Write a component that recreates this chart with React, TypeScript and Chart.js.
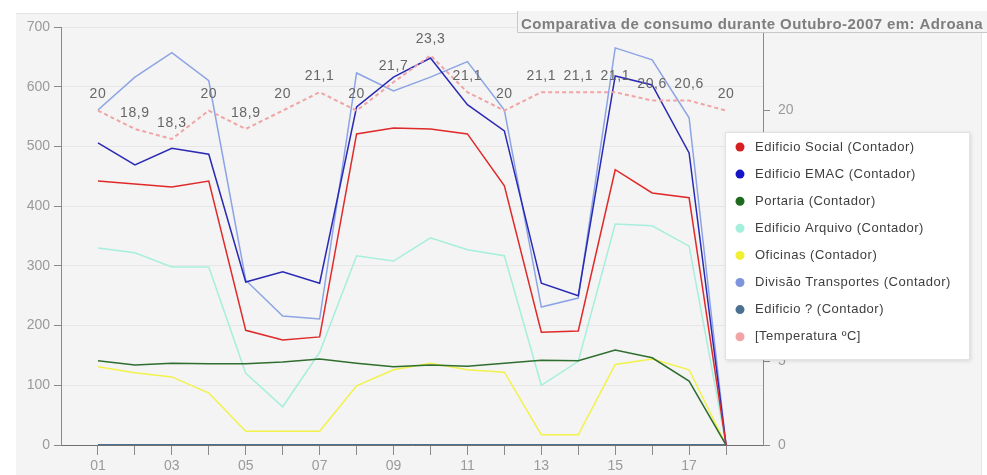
import React, { useEffect, useRef } from "react";
import { Chart, registerables } from "chart.js";

Chart.register(...registerables);

const days = ["01","02","03","04","05","06","07","08","09","10","11","12","13","14","15","16","17","18"];
const social = [442,437,432,442,192,176,181,521,531,529,521,434,189,191,461,422,414,0];
const emac = [506,469,497,487,273,290,271,566,616,648,570,526,271,250,618,603,489,0];
const portaria = [141,134,137,136,136,139,144,137,131,134,132,137,142,141,159,146,107,0];
const arquivo = [330,322,298,298,120,64,155,317,308,347,327,317,100,140,370,367,333,0];
const oficinas = [131,121,114,87,23,23,23,99,126,137,126,122,17,17,135,144,126,0];
const transportes = [561,616,657,610,276,216,211,623,593,616,642,561,231,246,665,645,548,0];
const edificioX = [0,0,0,0,0,0,0,0,0,0,0,0,0,0,0,0,0,0];
const temperatura = [20,18.9,18.3,20,18.9,20,21.1,20,21.7,23.3,21.1,20,21.1,21.1,21.1,20.6,20.6,20];

const leftTicks = [0,100,200,300,400,500,600,700];
const rightTicks = [0,5,10,15,20,25];

const titleText = "Comparativa de consumo durante Outubro-2007 em: Adroana";

const seriesNames = [
  "Edifício Social (Contador)",
  "Edifício EMAC (Contador)",
  "Portaria (Contador)",
  "Edifício Arquivo (Contador)",
  "Oficinas (Contador)",
  "Divisão Transportes (Contador)",
  "Edifício ? (Contador)",
  "[Temperatura ºC]",
];
const legendLabels = [
  "Edificio Social (Contador)",
  "Edificio EMAC (Contador)",
  "Portaria (Contador)",
  "Edificio Arquivo (Contador)",
  "Oficinas (Contador)",
  "Divisão Transportes (Contador)",
  "Edificio ? (Contador)",
  "[Temperatura ºC]",
];
const colors = ["#e02a2a","#2a2ab4","#2f6e2f","#a6efdc","#f2f24a","#8ca4e6","#4c7090","#f0a4a4"];
const legendColors = ["#d42020","#1414c8","#1f6a1f","#a6efdc","#f0f030","#7d95dc","#4c7090","#f0a4a4"];

const FONT = "'Liberation Sans', Arial, sans-serif";

const toXY = (arr: number[]) => arr.map((v, i) => ({ x: i + 1, y: v }));

export default function App() {
  const ref = useRef<HTMLCanvasElement | null>(null);
  useEffect(() => {
    document.body.style.margin = "0";
    const canvas = ref.current!;
    const valueSeries = [social, emac, portaria, arquivo, oficinas, transportes, edificioX];

    const decorPlugin = {
      id: "decor",
      beforeDraw(chart: any) {
        const ctx = chart.ctx;
        ctx.save();
        ctx.fillStyle = "#ffffff";
        ctx.fillRect(0, 0, chart.width, chart.height);
        ctx.fillStyle = "#f4f4f4";
        ctx.fillRect(16, 13, 966, chart.height - 13);
        ctx.strokeStyle = "#e4e4e4";
        ctx.lineWidth = 1;
        ctx.beginPath();
        ctx.moveTo(16, 13.5);
        ctx.lineTo(982, 13.5);
        ctx.moveTo(981.5, 13);
        ctx.lineTo(981.5, chart.height);
        ctx.stroke();
        ctx.restore();
      },
      afterDatasetsDraw(chart: any) {
        const ctx = chart.ctx;
        const meta = chart.getDatasetMeta(7);
        ctx.save();
        ctx.font = `14px ${FONT}`;
        (ctx as any).letterSpacing = "0.6px";
        ctx.fillStyle = "#666666";
        ctx.textAlign = "center";
        ctx.textBaseline = "bottom";
        meta.data.forEach((pt: any, i: number) => {
          const label = String(temperatura[i]).replace(".", ",");
          ctx.fillText(label, pt.x, pt.y - 9);
        });
        (ctx as any).letterSpacing = "0px";
        ctx.restore();
      },
      afterDraw(chart: any) {
        const ctx = chart.ctx;
        ctx.save();
        // title box
        ctx.fillStyle = "#f4f4f4";
        ctx.fillRect(517, 11, 470, 22);
        ctx.strokeStyle = "#c8c8c8";
        ctx.lineWidth = 1;
        ctx.beginPath();
        ctx.moveTo(517.5, 11);
        ctx.lineTo(517.5, 32.5);
        ctx.lineTo(987, 32.5);
        ctx.stroke();
        ctx.font = `bold 15px ${FONT}`;
        (ctx as any).letterSpacing = "0.4px";
        ctx.fillStyle = "#7e7e7e";
        ctx.textAlign = "left";
        ctx.textBaseline = "alphabetic";
        ctx.fillText(titleText, 521, 29, 465);
        (ctx as any).letterSpacing = "0px";
        // legend
        const lx = 725, ly = 132, lw = 245, lh = 228;
        ctx.shadowColor = "rgba(0,0,0,0.12)";
        ctx.shadowBlur = 4;
        ctx.shadowOffsetX = 1;
        ctx.shadowOffsetY = 1;
        ctx.fillStyle = "#ffffff";
        ctx.fillRect(lx, ly, lw, lh);
        ctx.shadowColor = "transparent";
        ctx.strokeStyle = "#e2e2e2";
        ctx.strokeRect(lx + 0.5, ly + 0.5, lw - 1, lh - 1);
        ctx.font = `13px ${FONT}`;
        ctx.textBaseline = "middle";
        legendLabels.forEach((lab, i) => {
          const cy = 147 + i * 27.1;
          ctx.beginPath();
          ctx.fillStyle = legendColors[i];
          ctx.arc(740, cy, 4.5, 0, Math.PI * 2);
          ctx.fill();
          ctx.fillStyle = "#3e3e3e";
          (ctx as any).letterSpacing = "0.5px";
          ctx.fillText(lab, 755, cy);
          (ctx as any).letterSpacing = "0px";
        });
        ctx.restore();
      },
    };

    const datasets: any[] = valueSeries.map((arr, i) => ({
      label: seriesNames[i],
      data: toXY(arr),
      borderColor: colors[i],
      backgroundColor: colors[i],
      borderWidth: i === 6 ? 2 : 1.5,
      pointRadius: 0,
      tension: 0,
      yAxisID: "y",
      order: i + 1,
    }));
    datasets.push({
      label: seriesNames[7],
      data: toXY(temperatura),
      borderColor: colors[7],
      backgroundColor: colors[7],
      borderWidth: 2,
      borderDash: [4, 3],
      pointRadius: 0,
      tension: 0,
      yAxisID: "y2",
      order: 0,
    });

    const chart = new Chart(canvas, {
      type: "line",
      data: { datasets },
      plugins: [decorPlugin],
      options: {
        animation: false,
        responsive: false,
        layout: { padding: { top: 27, left: 0, right: 0, bottom: 0 } },
        plugins: { legend: { display: false }, title: { display: false }, tooltip: { enabled: false } },
        scales: {
          x: {
            type: "linear",
            min: 0,
            max: 19,
            afterBuildTicks: (s: any) => { s.ticks = days.map((_, i) => ({ value: i + 1 })); },
            afterFit: (s: any) => { s.height = 30; },
            ticks: {
              autoSkip: false,
              maxRotation: 0,
              padding: 3,
              color: "#9a9a9a",
              font: { family: FONT, size: 14 },
              callback: (v: any) => (Number(v) % 2 === 1 ? days[Number(v) - 1] : ""),
            },
            grid: { drawOnChartArea: false, tickLength: 10, tickColor: "#8a8a8a" },
            border: { color: "#707070", width: 1 },
          },
          y: {
            type: "linear",
            position: "left",
            min: 0,
            max: 700,
            afterBuildTicks: (s: any) => { s.ticks = leftTicks.map((v) => ({ value: v })); },
            afterFit: (s: any) => { s.width = 61; },
            ticks: { padding: 4, color: "#9a9a9a", font: { family: FONT, size: 14 } },
            grid: { color: "rgba(0,0,0,0.05)", tickLength: 7, tickColor: "#8a8a8a" },
            border: { color: "#8a8a8a", width: 1 },
          },
          y2: {
            type: "linear",
            position: "right",
            min: 0,
            max: 25,
            afterBuildTicks: (s: any) => { s.ticks = rightTicks.map((v) => ({ value: v })); },
            afterFit: (s: any) => { s.width = 224; },
            ticks: { padding: 8, color: "#9a9a9a", font: { family: FONT, size: 14 } },
            grid: { drawOnChartArea: false, tickLength: 7, tickColor: "#8a8a8a" },
            border: { color: "#8a8a8a", width: 1 },
          },
        },
      },
    });
    return () => chart.destroy();
  }, []);
  return <canvas ref={ref} width={987} height={475} style={{ display: "block" }} />;
}
